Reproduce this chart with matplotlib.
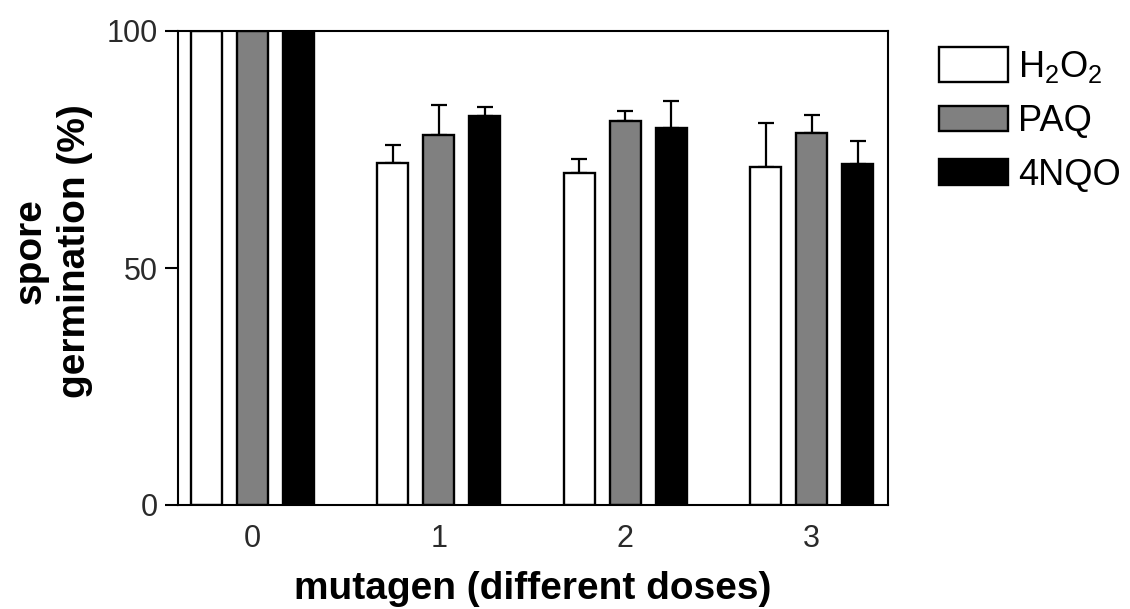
import numpy as np
import matplotlib
matplotlib.use('Agg')
import matplotlib.pyplot as plt

plt.rcParams['font.family'] = ['Liberation Sans', 'DejaVu Sans']
plt.rcParams['mathtext.fontset'] = 'custom'
plt.rcParams['mathtext.rm'] = 'Liberation Sans'

doses = ['0', '1', '2', '3']
series = ['$\\mathregular{H_2O_2}$', 'PAQ', '4NQO']
h2o2 = [100, 72.2, 70.0, 71.3]
paq = [100, 78.1, 81.0, 78.5]
nqo = [100, 82.1, 79.5, 71.9]
h2o2_err = [0, 3.7, 3.0, 9.3]
paq_err = [0, 6.3, 2.1, 3.8]
nqo_err = [0, 1.9, 5.7, 4.9]

colors = ['white', '#808080', 'black']
vals = [h2o2, paq, nqo]
errs = [h2o2_err, paq_err, nqo_err]

fig = plt.figure(figsize=(11.3, 6.09), dpi=100)
ax = fig.add_axes([178/1130, 1-505/609, 710/1130, 474/609])

x = np.arange(len(doses))
w = 0.167
off = 0.247
for i in range(3):
    pos = x + (i-1)*off
    ax.bar(pos, vals[i], w, color=colors[i], edgecolor='black', linewidth=1.7,
           label=series[i], zorder=2)
    ax.errorbar(pos, vals[i], yerr=[np.zeros(4), errs[i]], fmt='none',
                ecolor='black', elinewidth=1.6, capsize=5.5, capthick=1.6, zorder=1)

ax.set_xlim(-0.40, 3.41)
ax.set_ylim(0, 100)
ax.set_yticks([0, 50, 100])
ax.set_xticks(x)
ax.set_xticklabels(doses)
ax.tick_params(axis='y', length=9.5, width=1.5, labelsize=22, pad=5, colors='black')
ax.tick_params(axis='x', length=0, labelsize=22, pad=14)
for s in ax.spines.values():
    s.set_linewidth(1.5)
for t in ax.get_yticklabels() + ax.get_xticklabels():
    t.set_color('#2a2a2a')

ax.set_xlabel('mutagen (different doses)', fontsize=28, fontweight='bold', labelpad=12)
ax.set_ylabel('spore\ngermination (%)', fontsize=28, fontweight='bold',
              linespacing=1.3)
ax.yaxis.set_label_coords(-0.12, 0.536)

leg = ax.legend(loc='upper left', bbox_to_anchor=(939/1130, 1-49/609),
                bbox_transform=fig.transFigure, frameon=False, fontsize=26,
                handlelength=1.9, handleheight=0.7, labelspacing=0.52,
                handletextpad=0.3, borderpad=0, borderaxespad=0)
p = leg.get_patches()[0]
h = p.get_height()
p.set_y(p.get_y() - 0.2*h)
p.set_height(1.4*h)

fig.savefig('out.png', dpi=100)
